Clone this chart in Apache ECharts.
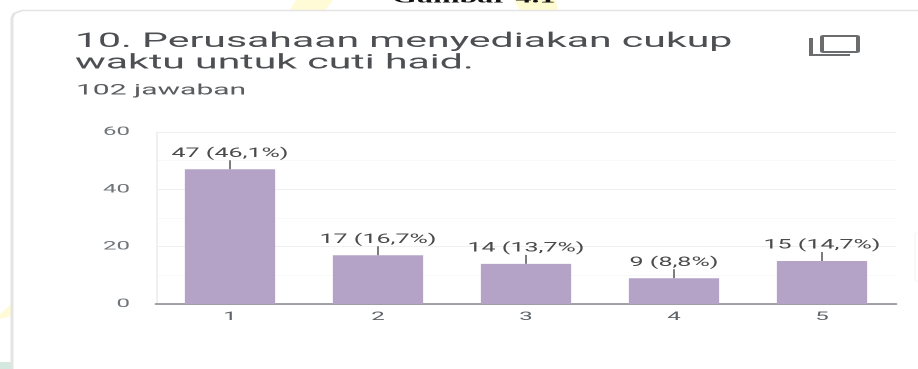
<!DOCTYPE html>
<html>
<head>
<meta charset="utf-8">
<style>
html,body{margin:0;padding:0;background:#fff;overflow:hidden}
/* the card is laid out at half width and widened to fill the page */
#chart{width:459px;height:369px;transform:scaleX(2);transform-origin:0 0}
</style>
<script src="https://cdn.jsdelivr.net/npm/echarts@6/dist/echarts.min.js"></script>
</head>
<body>
<div id="chart"></div>
<script>
// Survey question 10: count of answers on the 1-5 scale
const categories = ['1', '2', '3', '4', '5'];
const counts = [47, 17, 14, 9, 15];
const shares = ['46,1', '16,7', '13,7', '8,8', '14,7'];
const yTicks = [0, 20, 40, 60];
const questionLines = ['10. Perusahaan menyediakan cukup', 'waktu untuk cuti haid.'];
const responseCount = '102 jawaban';
const pageCaption = 'Gambar 4.1';

const textGrey = '#5f6368';
const sans = 'Roboto, sans-serif';

const chart = echarts.init(document.getElementById('chart'), null, { renderer: 'canvas', devicePixelRatio: 2 });
chart.setOption({
  animation: false,
  backgroundColor: '#ffffff',
  grid: { left: 78, right: 11, top: 132, bottom: 65 },
  xAxis: {
    type: 'category',
    data: categories,
    axisTick: { show: false },
    axisLine: { lineStyle: { color: '#85838c', width: 1.5 } },
    axisLabel: { color: textGrey, fontFamily: sans, fontSize: 12, margin: 7 },
    splitLine: { show: false }
  },
  yAxis: {
    type: 'value',
    min: 0,
    max: 60,
    interval: 20,
    axisLine: { show: true, lineStyle: { color: '#f0f0f0' } },
    axisTick: { show: false },
    axisLabel: {
      color: '#70757a', fontFamily: sans, fontSize: 12, margin: 13,
      formatter: v => (yTicks.includes(v) ? String(v) : '')
    },
    splitLine: { lineStyle: { color: '#f0f0f0' } },
    minorTick: { show: false, splitNumber: 2 },
    minorSplitLine: { show: true, lineStyle: { color: '#f8f8f8' } }
  },
  series: [{
    type: 'bar',
    data: counts,
    barWidth: '61%',
    itemStyle: { color: '#b4a3c7' },
    label: {
      show: true,
      position: 'top',
      distance: 0,
      color: '#4a4a4a',
      fontFamily: sans,
      fontSize: 12.5,
      formatter: p => `${counts[p.dataIndex]} (${shares[p.dataIndex]}%)`
    },
    labelLayout: { dy: -9 },
    labelLine: { show: true, lineStyle: { color: '#7d7d80', width: 1 } }
  }],
  graphic: [
    // page background marks behind the card
    { type: 'polygon', silent: true, z: -2, shape: { points: [[145, 10], [148, 0], [166.5, 0], [162.5, 10]] }, style: { fill: '#fffbd6' } },
    { type: 'polygon', silent: true, z: -2, shape: { points: [[257, 0], [278, 0], [279, 10], [260, 10]] }, style: { fill: '#fffbd0' } },
    { type: 'polygon', silent: true, z: -2, shape: { points: [[0, 314], [5.5, 304], [5.5, 316], [0, 319]] }, style: { fill: '#fffbd6' } },
    { type: 'rect', silent: true, z: -2, shape: { x: 0, y: 362, width: 5.5, height: 7 }, style: { fill: '#d5e8e0' } },
    // card outline
    { type: 'polyline', silent: true, z: -1, shape: { points: [[6, 369], [6, 18], [7, 13.5], [11, 10.5], [459, 10.5]] }, style: { fill: 'none', stroke: '#e4e4e4', lineWidth: 1.5 } },
    { type: 'rect', silent: true, z: -1, shape: { x: 457.5, y: 233, width: 4, height: 48 }, style: { fill: 'none', stroke: '#f2f2f2', lineWidth: 0.5 } },
    // page caption, cut off by the top edge
    { type: 'text', silent: true, x: 196, y: -9.5, style: { text: pageCaption, font: 'bold 16px "Liberation Serif", serif', fill: '#111' } },
    // question and response count
    { type: 'text', silent: true, x: 37.5, y: 31.5, style: { text: questionLines[0], font: `20.5px ${sans}`, fill: '#4d4f52' } },
    { type: 'text', silent: true, x: 37.5, y: 53, style: { text: questionLines[1], font: `20.5px ${sans}`, fill: '#4d4f52' } },
    { type: 'text', silent: true, x: 38, y: 83, style: { text: responseCount, font: `15px ${sans}`, fill: '#5a5c5f' } },
    // copy icon
    { type: 'rect', silent: true, shape: { x: 411, y: 36, width: 18, height: 16, r: 1 }, style: { fill: 'none', stroke: '#6a6c6e', lineWidth: 2 } },
    { type: 'polyline', silent: true, shape: { points: [[405.5, 38], [405.5, 55], [425, 55]] }, style: { fill: 'none', stroke: '#6a6c6e', lineWidth: 2 } }
  ]
});
</script>
</body>
</html>
